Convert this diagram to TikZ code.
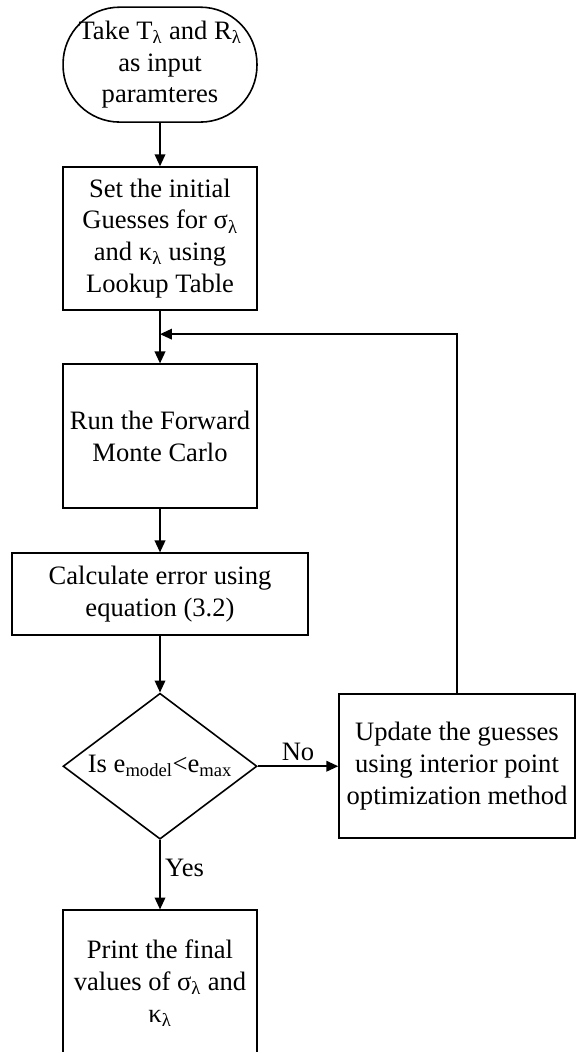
\documentclass[tikz,border=0pt]{standalone}
\usepackage{fontspec}
\setmainfont{Liberation Serif}
\usetikzlibrary{arrows.meta,positioning,shapes.geometric}

\begin{document}
\begin{tikzpicture}[
		>={Triangle[length=9pt,width=8pt]},
		line width=1.2pt,
		every node/.style={font=\fontsize{20}{24}\selectfont, align=center},
		startbox/.style={draw, rectangle, rounded corners=1.5cm, minimum width=5.13cm, minimum height=3.04cm, inner sep=0pt},
		procbox/.style={draw, rectangle, minimum width=5.13cm, minimum height=3.81cm, inner sep=0pt},
		testbox/.style={draw, diamond, aspect=1.33, minimum width=5.13cm, minimum height=3.86cm, inner sep=0pt}
	]
		\def\colx{4.233}
		\useasboundingbox (0,0) rectangle (15.24,-27.83);

		% Main column
		\node[startbox] (take) at (\colx,-1.71) {Take T\textsubscript{λ} and R\textsubscript{λ}\\as input\\paramteres};
		\node[procbox, minimum height=3.78cm] (guess) at (\colx,-6.31) {Set the initial\\Guesses for σ\textsubscript{λ}\\and κ\textsubscript{λ} using\\Lookup Table};
		\node[procbox] (run) at (\colx,-11.54) {Run the Forward\\Monte Carlo};
		\node[procbox, minimum width=7.83cm, minimum height=2.17cm] (calc) at (\colx,-15.72) {Calculate error using\\equation (3.2)};
		\node[testbox] (check) at (\colx,-20.27) {Is e\textsubscript{model}<e\textsubscript{max}};
		\node[procbox, minimum height=3.86cm] (final) at (\colx,-26.01) {Print the final\\values of σ\textsubscript{λ} and\\κ\textsubscript{λ}};

		% Update step on the right
		\node[procbox, minimum width=6.24cm] (update) at (12.09,-20.27) {Update the guesses\\using interior point\\optimization method};

		% Connectors
		\draw[->] (take) -- (guess);
		\draw[->] (guess) -- (run);
		\draw[->] (run) -- (calc);
		\draw[->] (calc) -- (check);
		\draw[->] (check) -- node[above] {No} (update);
		\draw[->] (check) -- node[right, pos=0.4] {Yes} (final);

		% Feedback loop back into the main column
		\coordinate (loop) at (\colx,-8.84);
		\draw[->] (update.north) |- (loop);
	\end{tikzpicture}
\end{document}
